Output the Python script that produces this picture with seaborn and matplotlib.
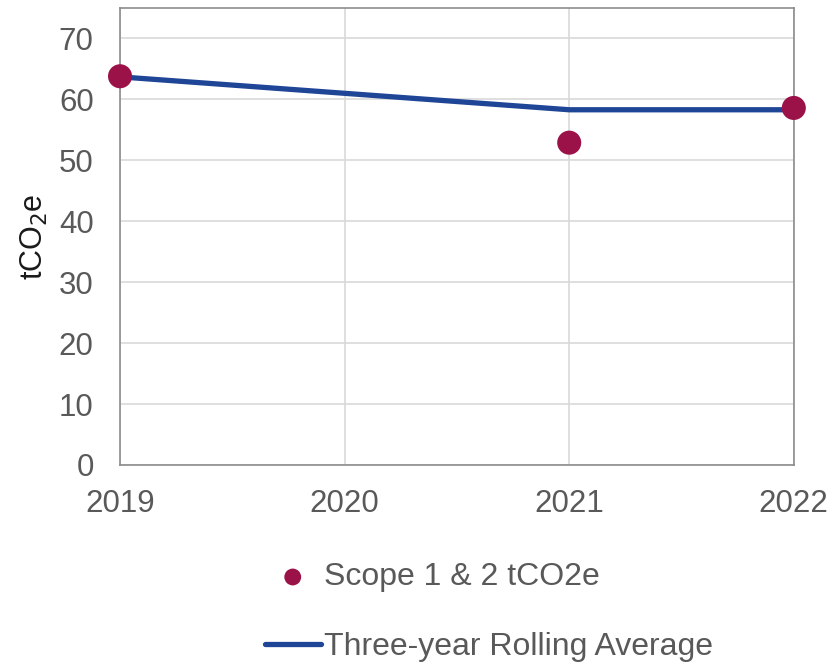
import matplotlib.pyplot as plt
import seaborn as sns
import pandas as pd

years = [2019, 2020, 2021, 2022]
scope_years = [2019, 2021, 2022]
scope_values = [63.8, 52.9, 58.6]
rolling_avg = [63.7, 61.0, 58.3, 58.3]

sns.set_theme(style="whitegrid")
plt.rcParams['font.family'] = ['Liberation Sans', 'DejaVu Sans']

grey = "#595959"
maroon = "#9B1249"
blue = "#1F4596"

fig = plt.figure(figsize=(8.4, 6.62), dpi=100)
ax = fig.add_axes([0.1429, 0.2976, 0.8021, 0.6903])

avg_df = pd.DataFrame({"year": years, "value": rolling_avg})
scope_df = pd.DataFrame({"year": scope_years, "value": scope_values})

sns.lineplot(data=avg_df, x="year", y="value", ax=ax, color=blue, linewidth=3.8,
             label="Three-year Rolling Average", zorder=3, clip_on=False)
sns.scatterplot(data=scope_df, x="year", y="value", ax=ax, color=maroon, s=300,
                edgecolor="none", label="Scope 1 & 2 tCO2e", zorder=4, clip_on=False)

ax.set_xlim(2019, 2022)
ax.set_ylim(0, 75)
ax.set_xticks(years)
ax.set_yticks(range(0, 71, 10))
ax.grid(True, color="#d9d9d9", linewidth=1.2)
for s in ax.spines.values():
    s.set_visible(True)
    s.set_color("#8c8c8c")
    s.set_linewidth(1.2)
ax.tick_params(axis="both", labelsize=22.5, colors=grey, length=0)
ax.tick_params(axis="x", pad=17)
ax.tick_params(axis="y", pad=19)
ax.set_xlabel("")
ax.set_ylabel("tCO$_2$e", fontsize=22, color="#1a1a1a", labelpad=6)

handles, labels = ax.get_legend_handles_labels()
order = [1, 0]
leg = fig.legend([handles[i] for i in order], [labels[i] for i in order],
                 loc="center left", bbox_to_anchor=(0.281, 0.075), frameon=False,
                 fontsize=23, handlelength=1.75, handletextpad=0.1, labelspacing=1.25,
                 markerscale=0.7)
for t in leg.get_texts():
    t.set_color(grey)
if ax.get_legend():
    ax.get_legend().remove()

fig.savefig("out.png", dpi=100)
